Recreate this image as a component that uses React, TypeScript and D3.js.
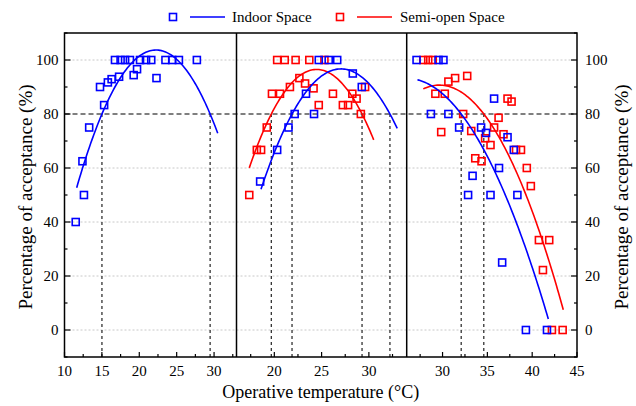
import React from "react";
import * as d3 from "d3";

// Panel x-domains (operative temperature, °C)
const panelDomains: [number, number][] = [
  [10, 33],
  [16, 34],
  [26, 45],
];
const panelMajorTicks: number[][] = [
  [10, 15, 20, 25, 30],
  [20, 25, 30],
  [30, 35, 40, 45],
];
const yMajorTicks = [0, 20, 40, 60, 80, 100];
const yMinorTicks = [-10, 10, 30, 50, 70, 90, 110];
const acceptThreshold = 80;

// Panel 1 – indoor space
const indoorT1 = [11.5, 12.6, 12.4, 13.3, 15.3, 14.75, 15.8, 16.3, 17.3, 19.25, 19.7, 22.3,
  16.75, 17.5, 18.1, 18.75, 20.1, 20.9, 21.6, 23.5, 24.4, 25.3, 27.7];
const indoorA1 = [40, 50, 62.5, 75, 83.3, 90, 91.7, 92.9, 93.8, 94.4, 96.6, 93.3,
  100, 100, 100, 100, 100, 100, 100, 100, 100, 100, 100];

// Panel 2 – indoor space
const indoorT2 = [18.5, 20.3, 21.5, 22.15, 23.35, 24.2, 28.3, 29.25, 24.7, 25.75, 26.65];
const indoorA2 = [55, 66.7, 75, 80, 87.5, 80, 95, 90, 100, 100, 100];

// Panel 2 – semi-open space
const semiT2 = [17.35, 18.15, 18.6, 19.2, 19.75, 20.6, 21.65, 22.65, 23.25, 24.15, 24.7, 26.2,
  27.25, 27.8, 28.25, 28.7, 29.15, 29.6, 20.3, 21.1, 22.25, 23.7, 25.3];
const semiA2 = [50, 66.7, 66.7, 75, 87.5, 87.5, 90, 93.3, 91.3, 89.5, 83.3, 87.5,
  83.3, 83.3, 87.5, 85.7, 80, 90, 100, 100, 100, 100, 100];

// Panel 3 – indoor space
const indoorT3 = [27.1, 29.55, 30.1, 28.7, 30.65, 31.85, 34.3, 34.85, 35.75, 37.25, 37.95, 33.35,
  36.3, 32.85, 35.35, 38.35, 36.65, 39.3, 41.65];
const indoorA3 = [100, 100, 100, 80, 80, 75, 75, 73, 85.7, 71.4, 66.7, 57.1,
  60, 50, 50, 50, 25, 0, 0];

// Panel 3 – semi-open space
const semiT3 = [27.85, 28.4, 28.9, 30.65, 31.4, 32.75, 29.2, 30.25, 29.85, 32.3, 33.2, 33.65,
  34.35, 34.75, 35.35, 35.75, 36.25, 36.8, 37.25, 37.7, 38.2, 38.75, 39.4, 39.85, 40.75, 41.9,
  41.2, 42.2, 43.4];
const semiA3 = [100, 100, 100, 92, 93.3, 94.1, 87.5, 87.5, 73.3, 80, 73.7, 63.6,
  62.5, 71, 68.5, 75, 78.6, 72.5, 85.7, 84.6, 66.7, 66.7, 60, 53.3, 33.3, 33.3,
  22.2, 0, 0];

// Quadratic fits y = a (x - h)^2 + k, drawn from xStart to xEnd: [a, h, k, xStart, xEnd]
const indoorFits: [number, number, number, number, number][] = [
  [-0.453, 22.24, 103.7, 11.63, 30.49],
  [-0.623, 27.05, 96.7, 18.59, 33.0],
  [-0.357, 26.0, 93.2, 27.2, 41.8],
];
const semiFits: ([number, number, number, number, number] | null)[] = [
  null,
  [-0.717, 24.48, 96.5, 17.35, 30.51],
  [-0.435, 29.64, 90.7, 27.85, 43.47],
];

const indoorPoints = [
  [indoorT1, indoorA1],
  [indoorT2, indoorA2],
  [indoorT3, indoorA3],
];
const semiPoints = [null, [semiT2, semiA2], [semiT3, semiA3]];

const BLUE = "#0000ff";
const RED = "#ff0000";
const FONT = "'Liberation Serif', 'Times New Roman', serif";

const W = 636;
const H = 406;
const plotTop = 33;
const plotBottom = 357;
const panelEdges = [64.5, 236.5, 406.7, 577];

const y = d3.scaleLinear().domain([-10, 110]).range([plotBottom, plotTop]);

function fitCurve(fit: [number, number, number, number, number], x: d3.ScaleLinear<number, number>) {
  const [a, h, k, x0, x1] = fit;
  const xs = d3.range(0, 101).map((i) => x0 + ((x1 - x0) * i) / 100);
  const line = d3
    .line<number>()
    .x((t) => x(t))
    .y((t) => y(a * (t - h) * (t - h) + k));
  return line(xs) || "";
}

function crossings(fit: [number, number, number, number, number]) {
  const [a, h, k, x0, x1] = fit;
  const d = Math.sqrt((k - acceptThreshold) / -a);
  return [h - d, h + d].filter((t) => t >= x0 && t <= x1);
}

function Squares({ xs, ys, x, color }: { xs: number[]; ys: number[]; x: d3.ScaleLinear<number, number>; color: string }) {
  const s = 7;
  return (
    <g>
      {xs.map((t, i) => (
        <rect
          key={i}
          x={x(t) - s / 2}
          y={y(ys[i]) - s / 2}
          width={s}
          height={s}
          fill="none"
          stroke={color}
          strokeWidth={1.6}
        />
      ))}
    </g>
  );
}

export default function App() {
  const xScales = panelDomains.map((dom, i) =>
    d3.scaleLinear().domain(dom).range([panelEdges[i], panelEdges[i + 1]])
  );
  const left = panelEdges[0];
  const right = panelEdges[3];

  return (
    <svg
      width={W}
      height={H}
      style={{ position: "absolute", left: 0, top: 0, background: "#fff" }}
      fontFamily={FONT}
    >
      <rect x={0} y={0} width={W} height={H} fill="#fff" />

      {/* horizontal grid */}
      {yMajorTicks
        .filter((v) => v !== acceptThreshold)
        .map((v) => (
          <line key={v} x1={left} x2={right} y1={y(v)} y2={y(v)} stroke="#c8c8c8" strokeWidth={1} strokeDasharray="2,2" />
        ))}

      {/* acceptance threshold */}
      <line
        x1={left}
        x2={right}
        y1={y(acceptThreshold)}
        y2={y(acceptThreshold)}
        stroke="#000"
        strokeWidth={1.2}
        strokeDasharray="5,3"
      />

      {xScales.map((x, p) => {
        const fits = [indoorFits[p], semiFits[p]].filter(Boolean) as [number, number, number, number, number][];
        const ind = indoorPoints[p];
        const semi = semiPoints[p];
        const [d0, d1] = panelDomains[p];
        const minor: number[] = [];
        for (let t = Math.ceil(d0 / 2.5) * 2.5; t <= d1 + 1e-9; t += 2.5) {
          if (t % 5 !== 0) minor.push(t);
        }
        return (
          <g key={p}>
            {/* vertical drop lines at the 80% crossings */}
            {fits.flatMap((f, j) =>
              crossings(f).map((c, m) => (
                <line
                  key={`${j}-${m}`}
                  x1={x(c)}
                  x2={x(c)}
                  y1={y(acceptThreshold)}
                  y2={plotBottom}
                  stroke="#333"
                  strokeWidth={1.3}
                  strokeDasharray="3,3"
                />
              ))
            )}
            {/* x ticks */}
            {panelMajorTicks[p].map((t) => (
              <g key={t}>
                <line x1={x(t)} x2={x(t)} y1={plotBottom} y2={plotBottom - 5} stroke="#000" strokeWidth={1.2} />
                <text x={x(t)} y={plotBottom + 19} fontSize={15} textAnchor="middle" fill="#000">
                  {t}
                </text>
              </g>
            ))}
            {minor.map((t) => (
              <line key={`m${t}`} x1={x(t)} x2={x(t)} y1={plotBottom} y2={plotBottom - 3} stroke="#000" strokeWidth={1.2} />
            ))}

            {semi && <Squares xs={semi[0]} ys={semi[1]} x={x} color={RED} />}
            <Squares xs={ind[0]} ys={ind[1]} x={x} color={BLUE} />
            {semiFits[p] && (
              <path d={fitCurve(semiFits[p]!, x)} fill="none" stroke={RED} strokeWidth={1.6} />
            )}
            <path d={fitCurve(indoorFits[p], x)} fill="none" stroke={BLUE} strokeWidth={1.6} />
          </g>
        );
      })}

      {/* y ticks, left and right */}
      {yMajorTicks.map((v) => (
        <g key={v}>
          <line x1={left} x2={left + 6} y1={y(v)} y2={y(v)} stroke="#000" strokeWidth={1.2} />
          <line x1={right} x2={right - 6} y1={y(v)} y2={y(v)} stroke="#000" strokeWidth={1.2} />
          <text x={left - 6} y={y(v)} dy="0.35em" fontSize={15} textAnchor="end" fill="#000">
            {v}
          </text>
          <text x={right + 8} y={y(v)} dy="0.35em" fontSize={15} textAnchor="start" fill="#000">
            {v}
          </text>
        </g>
      ))}
      {yMinorTicks.map((v) => (
        <g key={`m${v}`}>
          <line x1={left} x2={left + 3} y1={y(v)} y2={y(v)} stroke="#000" strokeWidth={1.2} />
          <line x1={right} x2={right - 3} y1={y(v)} y2={y(v)} stroke="#000" strokeWidth={1.2} />
        </g>
      ))}

      {/* frame and panel dividers */}
      <rect
        x={left}
        y={plotTop}
        width={right - left}
        height={plotBottom - plotTop}
        fill="none"
        stroke="#000"
        strokeWidth={1.5}
      />
      {panelEdges.slice(1, 3).map((e) => (
        <line key={e} x1={e} x2={e} y1={plotTop} y2={plotBottom} stroke="#000" strokeWidth={1.5} />
      ))}

      {/* axis titles */}
      <text x={(left + right) / 2} y={398} fontSize={18} textAnchor="middle" fill="#000">
        Operative temperature (°C)
      </text>
      <text
        transform={`translate(25, ${(plotTop + plotBottom) / 2 + 2}) rotate(-90)`}
        fontSize={19}
        textAnchor="middle"
        dy="0.35em"
        fill="#000"
      >
        Percentage of acceptance (%)
      </text>
      <text
        transform={`translate(621, ${(plotTop + plotBottom) / 2 + 2}) rotate(-90)`}
        fontSize={19}
        textAnchor="middle"
        dy="0.35em"
        fill="#000"
      >
        Percentage of acceptance (%)
      </text>

      {/* legend */}
      <g>
        <rect x={169.5} y={13.5} width={7} height={7} fill="none" stroke={BLUE} strokeWidth={1.6} />
        <line x1={190} x2={225} y1={17} y2={17} stroke={BLUE} strokeWidth={1.6} />
        <text x={232} y={17} dy="0.35em" fontSize={15} fill="#000">
          Indoor Space
        </text>
        <rect x={336.5} y={13.5} width={7} height={7} fill="none" stroke={RED} strokeWidth={1.6} />
        <line x1={357} x2={392} y1={17} y2={17} stroke={RED} strokeWidth={1.6} />
        <text x={400} y={17} dy="0.35em" fontSize={15} fill="#000">
          Semi-open Space
        </text>
      </g>
    </svg>
  );
}
